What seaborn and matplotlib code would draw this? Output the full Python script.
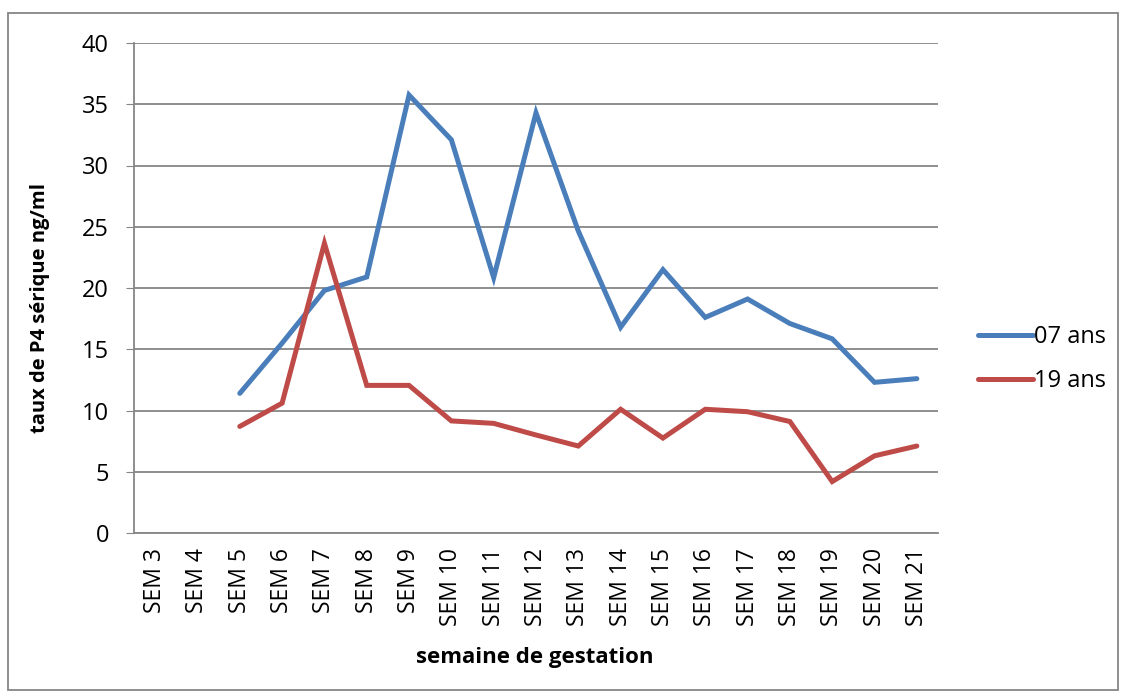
import numpy as np
import pandas as pd
import matplotlib.pyplot as plt
import seaborn as sns
from matplotlib.patches import Rectangle

weeks = ["SEM 3", "SEM 4", "SEM 5", "SEM 6", "SEM 7", "SEM 8", "SEM 9", "SEM 10",
         "SEM 11", "SEM 12", "SEM 13", "SEM 14", "SEM 15", "SEM 16", "SEM 17",
         "SEM 18", "SEM 19", "SEM 20", "SEM 21"]
ans_07 = [np.nan, np.nan, 11.4, 15.5, 19.8, 20.9, 35.75, 32.1, 20.85, 34.3, 24.65,
          16.8, 21.5, 17.6, 19.1, 17.1, 15.85, 12.3, 12.6]
ans_19 = [np.nan, np.nan, 8.7, 10.6, 23.65, 12.05, 12.05, 9.15, 8.95, 8.0, 7.1,
          10.1, 7.75, 10.1, 9.9, 9.1, 4.2, 6.3, 7.1]
series_names = ["07 ans", "19 ans"]
colors = ["#4A7EBB", "#BE4B48"]

# -----------------------------
# long table
# -----------------------------

pos = np.arange(len(weeks))
df = pd.concat([
    pd.DataFrame({"pos": pos, "taux": ans_07, "serie": series_names[0]}),
    pd.DataFrame({"pos": pos, "taux": ans_19, "serie": series_names[1]}),
]).dropna()

sns.set_style("white")
plt.rcParams["font.family"] = ["Open Sans", "DejaVu Sans"]
plt.rcParams["text.color"] = "black"
plt.rcParams["axes.labelcolor"] = "black"
plt.rcParams["xtick.labelcolor"] = "black"
plt.rcParams["ytick.labelcolor"] = "black"

fig = plt.figure(figsize=(11.22, 6.98), dpi=100)
ax = fig.add_axes([134 / 1122, 1 - 533 / 698, 804 / 1122, 490 / 698])

sns.lineplot(
    data=df,
    x="pos",
    y="taux",
    hue="serie",
    palette=colors,
    linewidth=3.6,
    ax=ax,
    solid_capstyle="round",
    solid_joinstyle="miter",
)

ax.set_xlim(-0.5, len(weeks) - 0.5)
ax.set_ylim(0, 40)
ax.set_yticks(range(0, 41, 5))
ax.set_xticks(pos)
ax.set_xticklabels(weeks, rotation=90, fontsize=16.5)
ax.tick_params(axis="y", labelsize=17, length=6, color="#868686", direction="out", left=True, pad=12)
ax.tick_params(axis="x", length=0, pad=11)

ax.grid(axis="y", color="#868686", linewidth=1.3)
ax.set_axisbelow(True)
for s in ["top", "right"]:
    ax.spines[s].set_visible(False)
for s in ["left", "bottom"]:
    ax.spines[s].set_color("#868686")
    ax.spines[s].set_linewidth(1.3)

ax.set_xlabel("semaine de gestation", fontsize=16, fontweight="bold")
ax.set_ylabel("taux de P4 sérique ng/ml", fontsize=14.5, fontweight="bold")
ax.xaxis.set_label_coords(0.499, -0.232)
ax.yaxis.set_label_coords(-0.104, 0.46)

leg = ax.legend(
    loc="center left",
    bbox_to_anchor=(1.05, 0.355),
    frameon=False,
    fontsize=17,
    handlelength=2.3,
    handletextpad=0.05,
    labelspacing=0.85,
    borderpad=0,
    borderaxespad=0,
)
for line in leg.get_lines():
    line.set_linewidth(3.6)

fig.patches.append(Rectangle((8 / 1122, 8 / 698), 1110 / 1122, 677 / 698,
                             transform=fig.transFigure, fill=False,
                             edgecolor="#868686", linewidth=1.3))

plt.savefig("out.png", dpi=100)
